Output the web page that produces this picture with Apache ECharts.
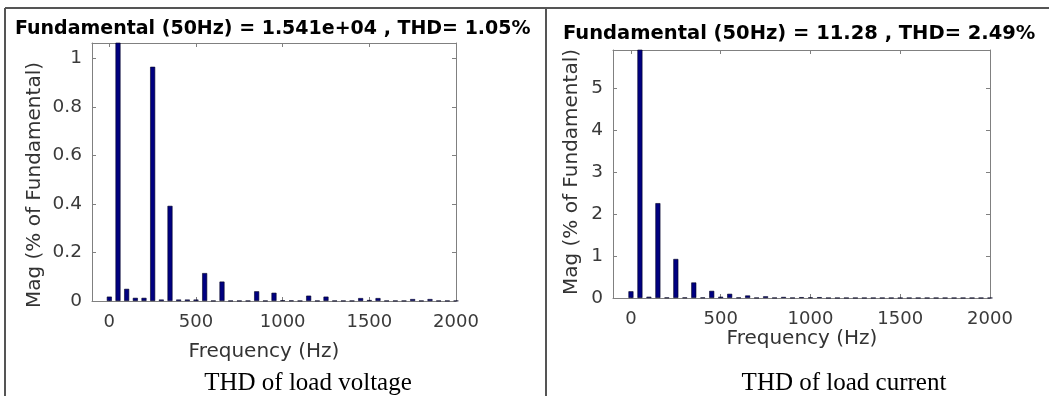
<!DOCTYPE html>
<html>
<head>
<meta charset="utf-8">
<script src="https://cdn.jsdelivr.net/npm/echarts@6/dist/echarts.min.js"></script>
<style>
html,body{margin:0;padding:0;background:#fff;}
#main{width:1049px;height:396px;}
</style>
</head>
<body>
<div id="main"></div>
<script>
// ---- data ----
const freqV = [0,50,100,150,200,250,300,350,400,450,500,550,600,650,700,750,800,850,900,950,1000,1050,1100,1150,1200,1250,1300,1350,1400,1450,1500,1550,1600,1650,1700,1750,1800,1850,1900,1950,2000];
const magV  = [0.018,100,0.05,0.013,0.013,0.965,0.006,0.392,0.006,0.006,0.006,0.115,0.001,0.08,0.001,0.001,0.001,0.04,0.001,0.034,0.003,0.002,0.001,0.022,0.001,0.018,0.001,0.001,0.001,0.012,0.004,0.012,0.001,0.001,0.001,0.008,0.001,0.008,0.001,0.001,0.001];
const freqI = [0,50,100,150,200,250,300,350,400,450,500,550,600,650,700,750,800,850,900,950,1000,1050,1100,1150,1200,1250,1300,1350,1400,1450,1500,1550,1600,1650,1700,1750,1800,1850,1900,1950,2000];
const magI  = [0.16,100,0.03,2.26,0.01,0.93,0.01,0.37,0.01,0.17,0.03,0.10,0.01,0.06,0.005,0.04,0.005,0.025,0.005,0.02,0.015,0.02,0.002,0.002,0.002,0.002,0.002,0.002,0.002,0.002,0.002,0.002,0.002,0.002,0.002,0.002,0.002,0.002,0.002,0.002,0.002];
const xTicks = [0,500,1000,1500,2000];
const yTicksV = [0,0.2,0.4,0.6,0.8,1];
const yTicksI = [0,1,2,3,4,5];
const titleV = 'Fundamental (50Hz) = 1.541e+04 , THD= 1.05%';
const titleI = 'Fundamental (50Hz) = 11.28 , THD= 2.49%';
const xName = 'Frequency (Hz)';
const yName = 'Mag (% of Fundamental)';
const captionV = 'THD of load voltage';
const captionI = 'THD of load current';

// ---- chart ----
const chart = echarts.init(document.getElementById('main'), null, {renderer:'canvas'});
const axisCol = '#808080';
const lblCol = '#3a3a3a';
const sans = 'DejaVu Sans';
const plain = v => String(v);

function xAx(grid, pos, showLabel){
  return {
    type:'value', gridIndex:grid, position:pos, min:-100, max:2000,
    axisLine:{show:true, onZero:false, lineStyle:{color:axisCol, width:1}},
    axisTick:{show:true, inside:true, length:4, customValues:xTicks, lineStyle:{color:axisCol}},
    axisLabel:{show:showLabel, customValues:xTicks, formatter:plain, margin:12, color:lblCol, fontFamily:sans, fontSize:18},
    splitLine:{show:false}
  };
}
function yAx(grid, pos, showLabel, max, ticks){
  return {
    type:'value', gridIndex:grid, position:pos, min:0, max:max,
    axisLine:{show:true, onZero:false, lineStyle:{color:axisCol, width:1}},
    axisTick:{show:true, inside:true, length:4, customValues:ticks, lineStyle:{color:axisCol}},
    axisLabel:{show:showLabel, customValues:ticks, formatter:plain, margin:10, color:lblCol, fontFamily:sans, fontSize:18.5},
    splitLine:{show:false}
  };
}
function barSeries(xi, yi, f, m){
  return {
    type:'bar', xAxisIndex:xi, yAxisIndex:yi, barWidth:5, clip:true,
    data:f.map((v,i)=>[v, m[i]]),
    itemStyle:{color:'#000080', borderColor:'#000022', borderWidth:0.6},
    silent:true
  };
}

function txt(x, y, s, style, rot){
  return {type:'text', x:x, y:y, rotation:rot||0, style:Object.assign({text:s, align:'center', verticalAlign:'middle', fill:'#000'}, style)};
}

chart.setOption({
  animation:false,
  backgroundColor:'#fff',
  grid:[
    {left:92, right:1049-456, top:43, bottom:396-301},
    {left:613, right:1049-990, top:50, bottom:396-298}
  ],
  xAxis:[ xAx(0,'bottom',true), xAx(0,'top',false), xAx(1,'bottom',true), xAx(1,'top',false) ],
  yAxis:[ yAx(0,'left',true,1.063,yTicksV), yAx(0,'right',false,1.063,yTicksV),
          yAx(1,'left',true,5.91,yTicksI), yAx(1,'right',false,5.91,yTicksI) ],
  series:[ barSeries(0,0,freqV,magV), barSeries(2,2,freqI,magI) ],
  graphic:[
    {type:'line', shape:{x1:5, y1:8, x2:1049, y2:8}, style:{stroke:'#555', lineWidth:2}},
    {type:'line', shape:{x1:5, y1:8, x2:5, y2:396}, style:{stroke:'#555', lineWidth:2}},
    {type:'line', shape:{x1:546, y1:8, x2:546, y2:396}, style:{stroke:'#555', lineWidth:2}},
    {type:'text', x:15, y:29, style:{text:titleV, align:'left', verticalAlign:'middle', fill:'#000', font:'bold 19px "DejaVu Sans"'}},
    {type:'text', x:563, y:34, style:{text:titleI, align:'left', verticalAlign:'middle', fill:'#000', font:'bold 19.5px "DejaVu Sans"'}},
    txt(264, 352, xName, {font:'20px "DejaVu Sans"', fill:'#333'}),
    txt(802, 339, xName, {font:'20px "DejaVu Sans"', fill:'#333'}),
    txt(35, 185, yName, {font:'20px "DejaVu Sans"', fill:'#333'}, Math.PI/2),
    txt(572, 172, yName, {font:'20px "DejaVu Sans"', fill:'#333'}, Math.PI/2),
    txt(308, 383, captionV, {font:'25px "Liberation Serif"', fill:'#000'}),
    txt(844, 383, captionI, {font:'25px "Liberation Serif"', fill:'#000'})
  ]
});
</script>
</body>
</html>
